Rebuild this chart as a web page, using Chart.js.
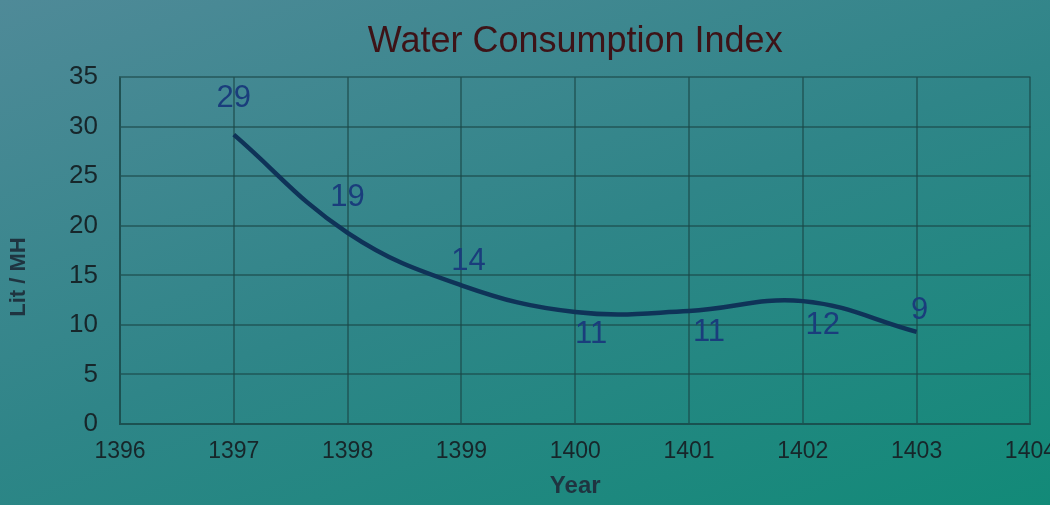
<!DOCTYPE html>
<html>
<head>
<meta charset="utf-8">
<script src="https://cdn.jsdelivr.net/npm/chart.js@4"></script>
<style>
  html, body { margin: 0; padding: 0; overflow: hidden; }
  body {
    width: 1050px; height: 505px;
    background: linear-gradient(160deg, #4f8a98 0%, #2f8588 50%, #128a78 100%);
  }
  #wrap { width: 1070px; height: 505px; }
</style>
</head>
<body>
<div id="wrap"><canvas id="waterChart"></canvas></div>
<script>
// Water consumption index per year
const years = [1397, 1398, 1399, 1400, 1401, 1402, 1403];
const litPerMH = [29.2, 19.3, 14.0, 11.3, 11.4, 12.4, 9.3];
const yTicks = [0, 5, 10, 15, 20, 25, 30, 35];
const xTicks = [1396, 1397, 1398, 1399, 1400, 1401, 1402, 1403, 1404];

// label offsets relative to each point
const labelOffsets = [[0, -36], [0, -35], [7, -24], [16, 22], [20, 21], [20, 24], [3, -21]];

const FONT = '"Liberation Sans", Arial, sans-serif';

const pointLabels = {
    id: 'pointLabels',
    afterDatasetsDraw(chart) {
        const c = chart.ctx;
        const meta = chart.getDatasetMeta(0);
        c.save();
        c.font = '31px ' + FONT;
        c.fillStyle = '#1a3d7c';
        c.textAlign = 'center';
        c.textBaseline = 'middle';
        meta.data.forEach(function(pt, i) {
            c.fillText(Math.round(litPerMH[i]), pt.x + labelOffsets[i][0], pt.y + labelOffsets[i][1]);
        });
        // y axis title, sits a bit below the axis middle like the original
        c.translate(19, 277);
        c.rotate(-Math.PI / 2);
        c.font = 'bold 22px ' + FONT;
        c.fillStyle = '#1f3440';
        c.fillText('Lit / MH', 0, 0);
        c.restore();
    }
};

const ctx = document.getElementById('waterChart').getContext('2d');
const waterChart = new Chart(ctx, {
    type: 'line',
    data: {
        datasets: [{
            data: years.map((y, i) => ({ x: y, y: litPerMH[i] })),
            borderColor: '#0f3358',
            borderWidth: 4.5,
            tension: 0.4,
            pointRadius: 0,
            fill: false
        }]
    },
    options: {
        responsive: true,
        maintainAspectRatio: false,
        animation: false,
        layout: { padding: { top: 0, right: 16, bottom: 4, left: 0 } },
        plugins: {
            legend: { display: false },
            tooltip: { enabled: false },
            title: {
                display: true,
                text: 'Water Consumption Index',
                fullSize: false,
                color: '#3d1317',
                font: { family: FONT, size: 36, weight: 'normal' },
                padding: { top: 20, bottom: 14 }
            }
        },
        scales: {
            x: {
                type: 'linear',
                min: 1396,
                max: 1404,
                afterBuildTicks: s => { s.ticks = xTicks.map(v => ({ value: v })); },
                afterFit: s => { s.height = 77; },
                grid: { color: 'rgba(25,70,70,0.55)', lineWidth: 2, drawTicks: false },
                border: { color: 'rgba(25,70,70,0.6)', width: 2 },
                ticks: {
                    color: '#17262a',
                    padding: 14,
                    maxRotation: 0,
                    font: { family: FONT, size: 23 },
                    callback: v => String(v)
                },
                title: {
                    display: true,
                    text: 'Year',
                    color: '#1f3440',
                    font: { family: FONT, size: 24, weight: 'bold' },
                    padding: { top: 4, bottom: 0 }
                }
            },
            y: {
                min: 0,
                max: 35,
                afterBuildTicks: s => { s.ticks = yTicks.map(v => ({ value: v })); },
                afterFit: s => { s.width = 120; },
                grid: { color: 'rgba(25,70,70,0.55)', lineWidth: 2, drawTicks: false },
                border: { color: 'rgba(25,70,70,0.6)', width: 2 },
                ticks: {
                    color: '#17262a',
                    padding: 22,
                    font: { family: FONT, size: 26 }
                }
            }
        }
    },
    plugins: [pointLabels]
});
</script>
</body>
</html>
